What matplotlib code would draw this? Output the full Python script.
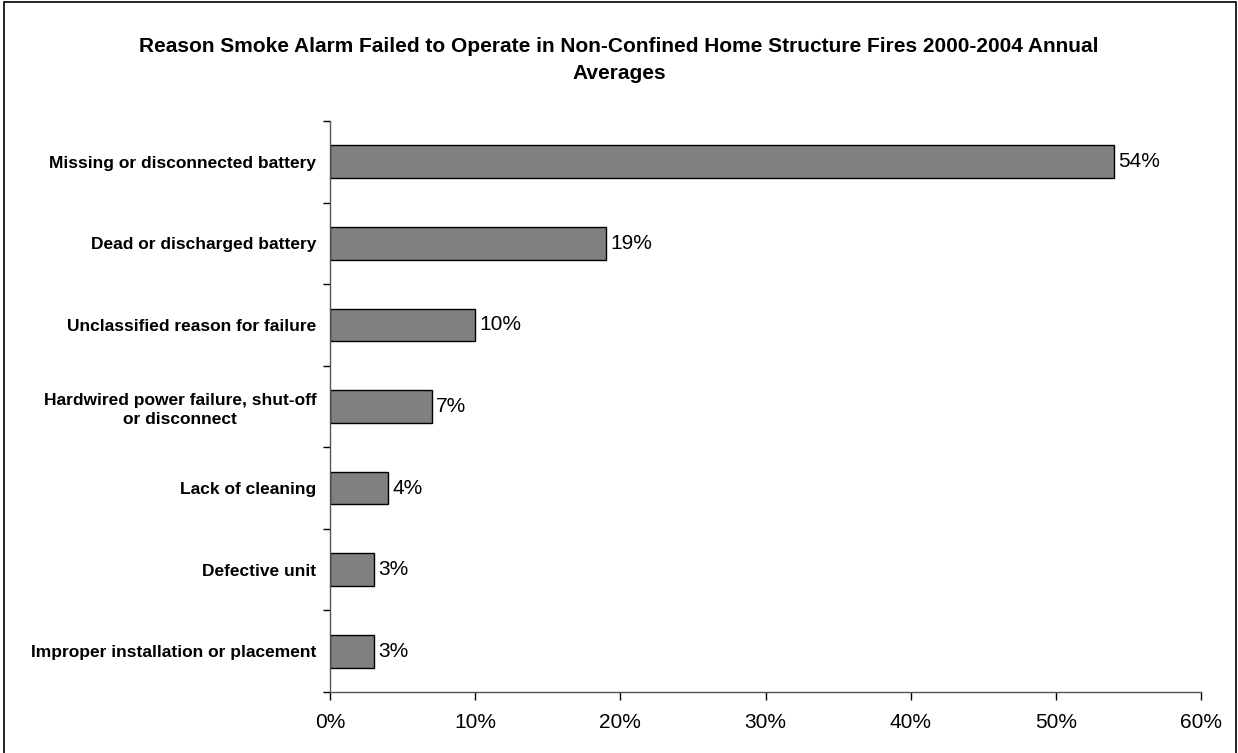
import matplotlib
matplotlib.use('Agg')
import matplotlib.pyplot as plt
from matplotlib.patches import Rectangle
from matplotlib.ticker import FixedLocator, PercentFormatter

plt.rcParams['font.family'] = ['Liberation Sans', 'DejaVu Sans']

# reasons, top to bottom, and share of failures (%)
reasons = ['Missing or disconnected battery',
           'Dead or discharged battery',
           'Unclassified reason for failure',
           'Hardwired power failure, shut-off\nor disconnect',
           'Lack of cleaning',
           'Defective unit',
           'Improper installation or placement']
shares = [54, 19, 10, 7, 4, 3, 3]
x_ticks = [0, 10, 20, 30, 40, 50, 60]

fig = plt.figure(figsize=(12.38, 7.53), dpi=100)
ax = fig.add_axes([0.2666, 0.081, 0.7035, 0.7583])

ypos = list(range(len(reasons)))[::-1]
bars = ax.barh(ypos, shares, height=0.4, color='#808080',
               edgecolor='black', linewidth=1.0)
for b, v in zip(bars, shares):
    ax.text(b.get_width() + 0.3, b.get_y() + b.get_height() / 2,
            str(v) + '%', va='center', ha='left', fontsize=15)

ax.set_xlim(0, 60)
ax.set_ylim(-0.5, len(reasons) - 0.5)
ax.xaxis.set_major_locator(FixedLocator(x_ticks))
ax.xaxis.set_major_formatter(PercentFormatter(decimals=0))
ax.tick_params(axis='x', direction='out', length=6, width=1,
               labelsize=15, pad=9)

# category labels at bar centres, tick marks at category borders
ax.set_yticks(ypos)
ax.set_yticklabels(reasons, fontsize=12.5, fontweight='bold',
                   multialignment='center', linespacing=1.3)
ax.tick_params(axis='y', which='major', length=0, pad=10)
ax.set_yticks([i - 0.5 for i in range(len(reasons) + 1)], minor=True)
ax.tick_params(axis='y', which='minor', direction='out', length=5, width=1)

for s in ['top', 'right']:
    ax.spines[s].set_visible(False)
for s in ['left', 'bottom']:
    ax.spines[s].set_color('#555555')
    ax.spines[s].set_linewidth(1.0)

fig.text(0.5, 0.92,
         'Reason Smoke Alarm Failed to Operate in Non-Confined Home Structure Fires 2000-2004 Annual\nAverages',
         ha='center', va='center', fontsize=15, fontweight='bold',
         linespacing=1.5)

fig.patches.append(Rectangle((0.003, -0.01), 0.995, 1.008,
                             transform=fig.transFigure, fill=False,
                             edgecolor='black', linewidth=1.2))

fig.savefig('out.png', dpi=100)
